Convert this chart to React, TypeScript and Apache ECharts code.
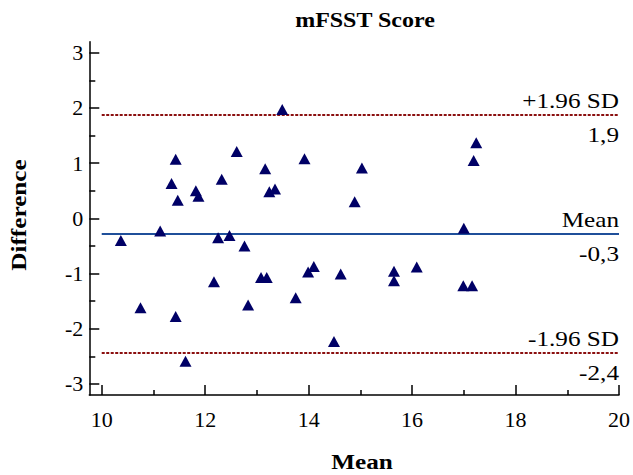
import React, { useEffect, useRef } from "react";
import * as echarts from "echarts";

const meanValues = [13.49, 11.43, 12.61, 13.92, 13.16, 11.35, 12.32, 11.82, 11.87, 11.47, 13.24, 13.35, 14.89, 15.03, 17.24, 17.19, 17.0, 11.13, 12.47, 10.37, 12.25, 12.76, 10.75, 11.43, 11.62, 12.17, 12.83, 13.08, 13.19, 13.75, 13.99, 14.1, 14.62, 14.49, 15.65, 15.65, 16.09, 16.99, 17.16];
const diffValues = [1.97, 1.07, 1.21, 1.08, 0.9, 0.63, 0.71, 0.5, 0.4, 0.33, 0.48, 0.53, 0.3, 0.91, 1.37, 1.05, -0.18, -0.23, -0.31, -0.4, -0.35, -0.5, -1.62, -1.78, -2.59, -1.15, -1.57, -1.07, -1.07, -1.44, -0.97, -0.87, -1.01, -2.23, -0.96, -1.13, -0.88, -1.22, -1.22];

const xMajorTicks = [10, 12, 14, 16, 18, 20];
const xMinorTicks = [11, 13, 15, 17, 19];
const yMajorTicks = [-3, -2, -1, 0, 1, 2, 3];
const yMinorTicks = [-2.5, -1.5, -0.5, 0.5, 1.5, 2.5];

const meanDiff = -0.283;
const upperLimit = 1.874;
const lowerLimit = -2.44;
const lineStart = 10;
const lineEnd = 20;

const limitLevels = [upperLimit, meanDiff, lowerLimit];
const limitNames = ["+1.96 SD", "Mean", "-1.96 SD"];
const limitValueTexts = ["1,9", "-0,3", "-2,4"];

const FONT = "Liberation Serif, Times New Roman, serif";

export default function App() {
  const ref = useRef<HTMLDivElement>(null);
  useEffect(() => {
    if (!ref.current) return;
    const chart = echarts.init(ref.current, undefined, { renderer: "svg" });
    const axisLine = { show: true, onZero: false, lineStyle: { color: "#000", width: 1.5 } };
    const baseX = {
      type: "value",
      min: 9.76,
      max: 20,
      position: "bottom",
      splitLine: { show: false },
    };
    const baseY = {
      type: "value",
      min: -3.2,
      max: 3.2,
      position: "left",
      splitLine: { show: false },
    };
    const limitLine = (name: string, v: number, color: string, type: any) => ({
      name,
      type: "line",
      data: [
        [lineStart, v],
        [lineEnd, v],
      ],
      symbol: "none",
      lineStyle: { color, width: 2, type },
      silent: true,
      z: 1,
    });
    chart.setOption({
      animation: false,
      backgroundColor: "#fff",
      textStyle: { fontFamily: FONT },
      grid: { left: 89.3, right: 13.7, top: 41.7, bottom: 80, containLabel: false },
      xAxis: [
        {
          ...baseX,
          axisLine,
          axisTick: { show: true, inside: true, length: 10, customValues: xMajorTicks, lineStyle: { color: "#000", width: 1.5 } },
          axisLabel: { show: true, customValues: xMajorTicks, fontSize: 22, fontFamily: FONT, color: "#000", margin: 13 },
        },
        {
          ...baseX,
          axisLine: { show: false, onZero: false },
          axisTick: { show: true, inside: true, length: 5, customValues: xMinorTicks, lineStyle: { color: "#000", width: 1.5 } },
          axisLabel: { show: false },
        },
      ],
      yAxis: [
        {
          ...baseY,
          axisLine,
          axisTick: { show: true, inside: true, length: 10, customValues: yMajorTicks, lineStyle: { color: "#000", width: 1.5 } },
          axisLabel: { show: true, customValues: yMajorTicks, fontSize: 22, fontFamily: FONT, color: "#000", margin: 6 },
        },
        {
          ...baseY,
          axisLine: { show: false, onZero: false },
          axisTick: { show: true, inside: true, length: 6, customValues: yMinorTicks, lineStyle: { color: "#000", width: 1.5 } },
          axisLabel: { show: false },
        },
      ],
      series: [
        limitLine("upper", upperLimit, "#8b1010", [3, 1.5]),
        limitLine("mean", meanDiff, "#1f4f9a", "solid"),
        limitLine("lower", lowerLimit, "#8b1010", [3, 1.5]),
        {
          name: "points",
          type: "scatter",
          symbol: "triangle",
          symbolSize: [12, 11],
          itemStyle: { color: "#000066", opacity: 1 },
          data: meanValues.map((m, i) => [m, diffValues[i]]),
          z: 5,
        },
      ],
    });

    const txt = (text: string, x: number, y: number, extra: any = {}) => ({
      type: "text",
      x,
      y,
      scaleX: extra.scaleX ?? 1.2,
      rotation: extra.rotation ?? 0,
      style: {
        text,
        fontFamily: FONT,
        fontSize: extra.fontSize ?? 21,
        fontWeight: extra.fontWeight ?? "normal",
        fill: "#000",
        align: extra.align ?? "center",
        verticalAlign: "middle",
      },
      z: 10,
    });
    const graphics: any[] = [
      txt("mFSST Score", 365, 20, { fontSize: 20, fontWeight: "bold" }),
      txt("Mean", 362, 462, { fontSize: 21, fontWeight: "bold" }),
      txt("Difference", 19, 215, { fontSize: 21, fontWeight: "bold", rotation: Math.PI / 2 }),
    ];
    limitLevels.forEach((v, i) => {
      const p = chart.convertToPixel({ xAxisIndex: 0, yAxisIndex: 0 }, [lineEnd, v]) as number[];
      graphics.push(txt(limitNames[i], p[0], p[1] - 14, { align: "right" }));
      graphics.push(txt(limitValueTexts[i], p[0], p[1] + 20, { align: "right" }));
    });
    chart.setOption({ graphic: graphics });
    return () => chart.dispose();
  }, []);
  return <div ref={ref} style={{ position: "fixed", left: 0, top: 0, width: 633, height: 475 }} />;
}
